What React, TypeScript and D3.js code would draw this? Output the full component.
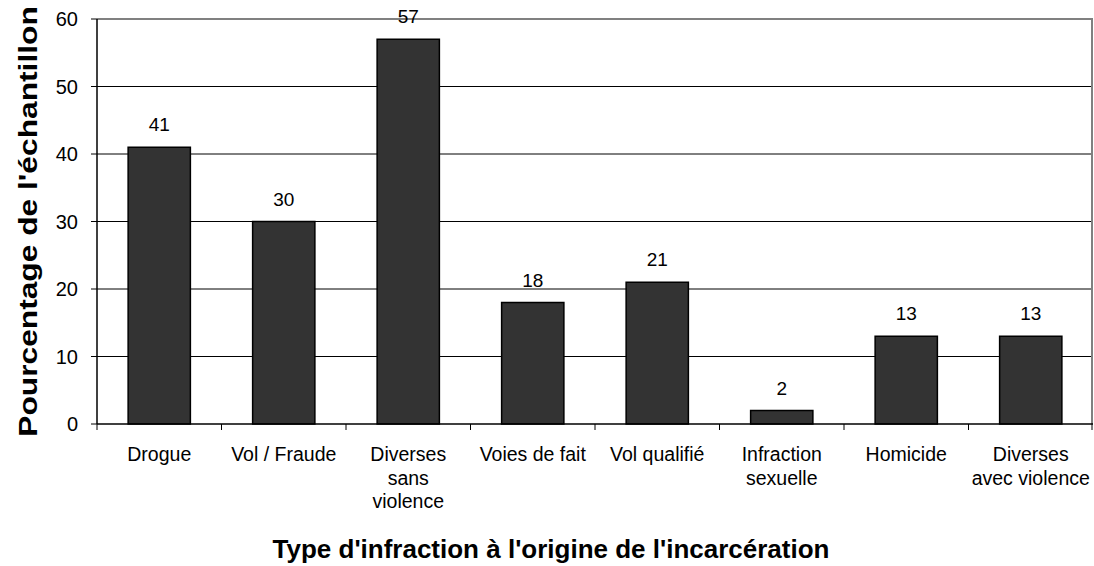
import React from 'react';
import * as d3 from 'd3';

const categories = [
  ['Drogue'],
  ['Vol / Fraude'],
  ['Diverses', 'sans', 'violence'],
  ['Voies de fait'],
  ['Vol qualifié'],
  ['Infraction', 'sexuelle'],
  ['Homicide'],
  ['Diverses', 'avec violence'],
];
const values = [41, 30, 57, 18, 21, 2, 13, 13];
const yTicks = [0, 10, 20, 30, 40, 50, 60];

export default function App() {
  const width = 1094;
  const height = 566;
  const margin = { top: 19, right: 1, bottom: 142, left: 97 };
  const font = "'Liberation Sans', Arial, sans-serif";

  const idx = d3.range(values.length);
  const x = d3.scaleBand<number>()
    .domain(idx)
    .range([margin.left, width - margin.right])
    .paddingInner(0.5)
    .paddingOuter(0.25);
  const bounds = d3.scaleBand<number>()
    .domain(idx)
    .range([margin.left, width - margin.right]);
  const y = d3.scaleLinear()
    .domain([0, 60])
    .range([height - margin.bottom, margin.top]);

  const x0 = margin.left;
  const x1 = width - margin.right;
  const yb = y(0);
  const yt = y(60);

  return (
    <svg width={width} height={height} style={{ position: 'absolute', left: 0, top: 0 }} fontFamily={font}>
      <rect x={0} y={0} width={width} height={height} fill="#fff" />
      {/* gridlines */}
      {yTicks.slice(1, -1).map(t => (
        <line key={t} x1={x0} x2={x1} y1={y(t)} y2={y(t)} stroke="#000" strokeWidth={1} />
      ))}
      {/* plot border top & right */}
      <line x1={x0} x2={x1} y1={yt} y2={yt} stroke="#808080" strokeWidth={2} />
      <line x1={x1 - 1} x2={x1 - 1} y1={yt} y2={yb} stroke="#808080" strokeWidth={2} />
      {/* bars */}
      {values.map((v, i) => (
        <g key={i}>
          <rect x={x(i)} y={y(v)} width={x.bandwidth()} height={yb - y(v)} fill="#333333" stroke="#000" strokeWidth={1.5} />
          <text x={(x(i) ?? 0) + x.bandwidth() / 2} y={y(v) - 16} textAnchor="middle" fontSize={19} fill="#000">{v}</text>
        </g>
      ))}
      {/* y axis */}
      <line x1={x0} x2={x0} y1={yt} y2={yb} stroke="#000" strokeWidth={1.5} />
      {yTicks.map(t => (
        <g key={t}>
          <line x1={x0 - 6} x2={x0} y1={y(t)} y2={y(t)} stroke="#000" strokeWidth={1} />
          <text x={x0 - 19} y={y(t)} dy="0.36em" textAnchor="end" fontSize={20} fill="#000">{t}</text>
        </g>
      ))}
      {/* x axis */}
      <line x1={x0} x2={x1} y1={yb} y2={yb} stroke="#000" strokeWidth={1.5} />
      {idx.concat([values.length]).map(i => {
        const px = i < values.length ? (bounds(i) ?? 0) : x1 - 1;
        return <line key={i} x1={px} x2={px} y1={yb} y2={yb + 6} stroke="#000" strokeWidth={1} />;
      })}
      {categories.map((lines, i) => (
        <text key={i} x={(bounds(i) ?? 0) + bounds.bandwidth() / 2} y={461} textAnchor="middle" fontSize={19.5} fill="#000">
          {lines.map((l, j) => (
            <tspan key={j} x={(bounds(i) ?? 0) + bounds.bandwidth() / 2} dy={j === 0 ? 0 : 23.5}>{l}</tspan>
          ))}
        </text>
      ))}
      {/* titles */}
      <text x={551} y={558} textAnchor="middle" fontSize={26} fontWeight="bold" fill="#000">
        Type d'infraction à l'origine de l'incarcération
      </text>
      <text transform={`translate(37, ${(yt + yb) / 2}) rotate(-90) scale(1.22, 1)`} textAnchor="middle" fontSize={26} fontWeight="bold" fill="#000">
        Pourcentage de l'échantillon
      </text>
    </svg>
  );
}
